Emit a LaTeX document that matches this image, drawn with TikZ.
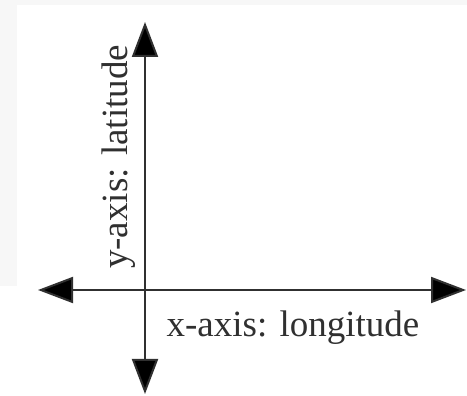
\documentclass[tikz,border=0pt]{standalone}
\usepackage{fontspec}
\setmainfont{Liberation Serif}
\usetikzlibrary{arrows.meta}
\definecolor{bggray}{HTML}{F7F7F7}
\definecolor{inkgray}{HTML}{303030}
\tikzset{
  axis/.style={line width=2pt, draw=inkgray, -{Triangle[length=35pt,width=26pt,fill=black]}},
  axislabel/.style={text=inkgray, font=\fontsize{37}{40}\selectfont, inner sep=0pt}
}
\begin{document}
\begin{tikzpicture}[x=1pt,y=-1pt]
\useasboundingbox (0,0) rectangle (467,396);
\fill[bggray] (0,0) rectangle (467,396);
\fill[white] (16.5,5.5) rectangle (467,286);
\fill[white] (0,286) rectangle (467,396);
\coordinate (O) at (145,290);
\coordinate (L) at (38,290);
\coordinate (R) at (466,290);
\coordinate (T) at (145,22);
\coordinate (B) at (145,394);
\draw[axis] (O) -- (T);
\draw[axis] (O) -- (B);
\draw[axis] (O) -- (L);
\draw[axis] (O) -- (R);
\node[axislabel, anchor=base] (xl) at (293,337) {x-axis: longitude};
\node[axislabel, anchor=base, rotate=90] (yl) at (127,157) {y-axis: latitude};
\end{tikzpicture}
\end{document}
